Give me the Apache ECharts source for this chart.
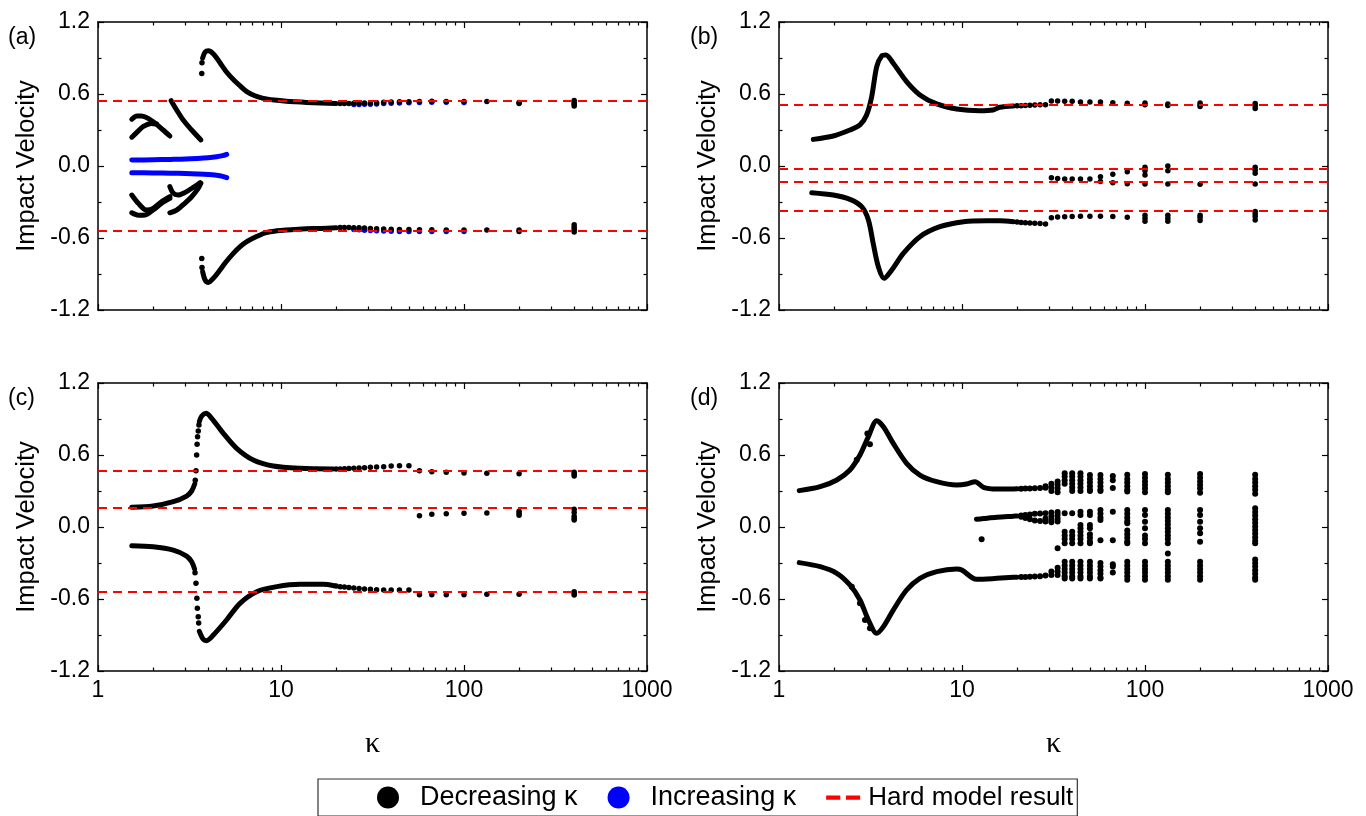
<!DOCTYPE html>
<html><head><meta charset="utf-8">
<script src="https://cdn.jsdelivr.net/npm/echarts@6/dist/echarts.min.js"></script>
<style>html,body{margin:0;padding:0;background:#fff}#c{width:1366px;height:816px}</style>
</head><body><div id="c"></div>
<script>
// ---------- tick labels ----------
const xTickValues = [1, 10, 100, 1000];
const xTickLabels = ['1', '10', '100', '1000'];
const yTickValues = [-1.2, -0.6, 0, 0.6, 1.2];
const yTickLabels = ['-1.2', '-0.6', '0.0', '0.6', '1.2'];
const minorTickK = [2,3,4,5,6,7,8,9,20,30,40,50,60,70,80,90,200,300,400,500,600,700,800,900];
const panelLabels = ['(a)', '(b)', '(c)', '(d)'];

// ---------- panel (a) ----------
const aHard = [0.54, -0.54];
const aBlueUpper = [[1.53,0.05],[2.0,0.052],[2.5,0.055],[3.0,0.058],[3.5,0.063],[4.0,0.069],[4.45,0.077],[4.8,0.086],[5.05,0.097]];
const aBlueLower = [[1.53,-0.056],[2.0,-0.058],[2.5,-0.06],[3.0,-0.063],[3.5,-0.066],[4.0,-0.07],[4.45,-0.077],[4.8,-0.086],[5.05,-0.097]];
const aBlueDots = [[25,0.512],[26.7,0.513],[28.6,0.514],[30.8,0.515],[33.3,0.517],[36.4,0.52],[40,0.522],[44.4,0.525],[50,0.527],[57.1,0.53],[66.7,0.532],[80,0.532],[100,0.53],
  [25,-0.53],[26.7,-0.532],[28.6,-0.535],[30.8,-0.537],[33.3,-0.54],[36.4,-0.542],[40,-0.543],[44.4,-0.545],[50,-0.545],[57.1,-0.545],[66.7,-0.545],[80,-0.545],[100,-0.545]];
const aUpperCurve = [[3.73,0.90],[3.85,0.95],[4.01,0.96],[4.3,0.93],[4.64,0.86],[5.0,0.79],[5.49,0.72],[6.0,0.665],[6.5,0.62],[7.2,0.585],[8.0,0.564],[9.2,0.55],[10.7,0.54],[12.0,0.535],[13.8,0.53],[16.5,0.524],[20,0.52]];
const aLowerCurve = [[3.73,-0.88],[3.85,-0.95],[4.01,-0.97],[4.3,-0.93],[4.64,-0.867],[5.0,-0.80],[5.49,-0.728],[6.0,-0.67],[6.5,-0.63],[7.3,-0.59],[8.3,-0.555],[9.5,-0.54],[10.7,-0.533],[13.0,-0.525],[16.5,-0.52],[20,-0.515]];
const aArcUpper = [[1.53,0.39],[1.63,0.417],[1.73,0.417],[1.88,0.397],[2.09,0.347],[2.27,0.30],[2.47,0.25]];
const aArcBranch = [[1.53,0.24],[1.63,0.28],[1.77,0.33],[1.96,0.355],[2.09,0.35]];
const aDiagonal = [[2.51,0.544],[2.69,0.467],[2.92,0.383],[3.25,0.30],[3.65,0.217]];
const aLowLeft1 = [[1.53,-0.242],[1.66,-0.311],[1.84,-0.367],[2.0,-0.353],[2.23,-0.297],[2.47,-0.256]];
const aLowLeft2 = [[1.53,-0.39],[1.66,-0.41],[1.81,-0.408],[2.0,-0.367],[2.23,-0.31],[2.47,-0.27]];
const aHook = [[2.47,-0.172],[2.58,-0.228],[2.74,-0.242],[2.98,-0.222],[3.32,-0.178],[3.61,-0.139]];
const aRise = [[2.47,-0.39],[2.69,-0.367],[2.98,-0.311],[3.25,-0.256],[3.53,-0.186],[3.65,-0.144]];
const aDots = [[3.69,0.77],[3.70,0.86],[3.69,-0.77],[3.70,-0.845],
  [21.05,0.52],[22.2,0.52],[23.5,0.52],[25,0.522],[26.7,0.522],[28.6,0.524],[30.8,0.525],[33.3,0.527],[36.4,0.532],[40,0.533],[44.4,0.535],[50,0.536],[57.1,0.537],[66.7,0.539],[80,0.537],[100,0.537],[133.3,0.537],[200,0.53],[200,0.52],[400,0.545],[400,0.53],[400,0.515],[400,0.50],
  [21.05,-0.512],[22.2,-0.512],[23.5,-0.513],[25,-0.514],[26.7,-0.515],[28.6,-0.517],[30.8,-0.52],[33.3,-0.522],[36.4,-0.525],[40,-0.527],[44.4,-0.53],[50,-0.53],[57.1,-0.532],[66.7,-0.532],[80,-0.533],[100,-0.533],[133.3,-0.533],[200,-0.533],[200,-0.545],[400,-0.49],[400,-0.51],[400,-0.53],[400,-0.55]];

// ---------- panel (b) ----------
const bHard = [0.51, -0.02, -0.13, -0.37];
const bUpperCurve = [[1.54,0.222],[1.98,0.25],[2.44,0.30],[2.77,0.342],[3.01,0.425],[3.21,0.578],[3.42,0.828],[3.64,0.917],[3.84,0.925],[4.21,0.856],[4.98,0.703],[5.89,0.592],[7.27,0.517],[9.35,0.475],[12.5,0.461],[14.8,0.467],[16.1,0.489],[19.1,0.50]];
const bLowerCurve = [[1.51,-0.222],[1.98,-0.242],[2.44,-0.278],[2.83,-0.339],[3.08,-0.45],[3.27,-0.644],[3.49,-0.839],[3.75,-0.936],[4.13,-0.867],[4.78,-0.728],[5.89,-0.589],[7.57,-0.506],[10.2,-0.464],[13.6,-0.456],[16.1,-0.456],[19.1,-0.464]];
const bDots = [[20,0.502],[21.05,0.503],[22.2,0.505],[23.5,0.507],[25,0.508],[26.7,0.51],[28.6,0.511],[30.8,0.542],[33.3,0.542],[36.4,0.54],[40,0.54],[44.4,0.533],[50,0.533],[57.1,0.533],[66.7,0.528],[80,0.522],[100,0.524],[100,0.51],[133.3,0.517],[133.3,0.505],[200,0.525],[200,0.51],[200,0.495],[400,0.52],[400,0.50],[400,0.48],
  [30.8,-0.097],[33.3,-0.105],[36.4,-0.108],[40,-0.108],[44.4,-0.108],[50,-0.108],[57.1,-0.09],[57.1,-0.13],[66.7,-0.069],[66.7,-0.139],[80,-0.047],[80,-0.147],[100,-0.011],[100,-0.04],[100,-0.075],[100,-0.15],[133.3,0.0],[133.3,-0.04],[133.3,-0.15],[200,-0.153],[400,-0.01],[400,-0.035],[400,-0.06],[400,-0.15],
  [20,-0.466],[21.05,-0.47],[22.2,-0.472],[23.5,-0.475],[25,-0.478],[26.7,-0.48],[28.6,-0.483],[30.8,-0.431],[33.3,-0.425],[36.4,-0.422],[40,-0.42],[44.4,-0.418],[50,-0.418],[57.1,-0.418],[66.7,-0.42],[80,-0.428],[100,-0.41],[100,-0.435],[100,-0.46],[133.3,-0.41],[133.3,-0.435],[133.3,-0.46],[200,-0.41],[200,-0.43],[200,-0.455],[400,-0.38],[400,-0.40],[400,-0.42],[400,-0.45]];

// ---------- panel (c) ----------
const cHard = [0.47, 0.16, -0.54];
const cUpperCurve1 = [[1.53,0.164],[2.0,0.175],[2.58,0.211],[3.05,0.258],[3.25,0.30],[3.38,0.36]];
const cUpperCurve2 = [[3.58,0.88],[3.69,0.925],[3.89,0.947],[4.18,0.906],[4.84,0.781],[5.72,0.656],[7.06,0.558],[9.06,0.508],[12.7,0.489],[19.3,0.483]];
const cLowerCurve1 = [[1.53,-0.156],[2.0,-0.164],[2.58,-0.192],[3.05,-0.242],[3.25,-0.29],[3.37,-0.35]];
const cLowerCurve2 = [[3.58,-0.87],[3.76,-0.936],[3.92,-0.947],[4.27,-0.9],[5.04,-0.775],[5.97,-0.636],[7.37,-0.539],[9.49,-0.497],[12.7,-0.478],[17.0,-0.478],[19.5,-0.49]];
const cDots = [[3.40,0.39],[3.43,0.469],[3.46,0.6],[3.48,0.689],[3.50,0.753],[3.53,0.8],[3.56,0.85],
  [3.39,-0.381],[3.43,-0.469],[3.47,-0.594],[3.49,-0.678],[3.53,-0.747],[3.55,-0.80],
  [20,0.483],[21.05,0.484],[22.2,0.485],[23.5,0.487],[25,0.489],[26.7,0.492],[28.6,0.494],[30.8,0.497],[33.3,0.50],[36.4,0.503],[40,0.508],[44.4,0.511],[50,0.511],[57.1,0.469],[66.7,0.461],[80,0.456],[100,0.45],[133.3,0.447],[200,0.444],[400,0.456],[400,0.44],[400,0.425],
  [57.1,0.094],[66.7,0.106],[80,0.111],[100,0.114],[133.3,0.117],[200,0.131],[200,0.115],[200,0.097],[400,0.147],[400,0.12],[400,0.09],[400,0.07],[400,0.058],
  [20,-0.492],[21.05,-0.497],[22.2,-0.50],[23.5,-0.505],[25,-0.508],[26.7,-0.512],[28.6,-0.516],[30.8,-0.519],[33.3,-0.522],[36.4,-0.525],[40,-0.525],[44.4,-0.525],[50,-0.525],[57.1,-0.564],[66.7,-0.564],[80,-0.564],[100,-0.564],[133.3,-0.561],[200,-0.561],[400,-0.54],[400,-0.555],[400,-0.567]];

// ---------- panel (d) ----------
const dUpperCurve = [[1.29,0.303],[1.68,0.336],[2.07,0.392],[2.44,0.475],[2.77,0.6],[3.08,0.753],[3.42,0.886],[3.72,0.836],[4.21,0.697],[4.98,0.531],[5.89,0.433],[7.27,0.378],[9.35,0.35],[10.6,0.358],[11.8,0.378],[13.1,0.331],[15.5,0.317],[19.1,0.317],[20,0.318]];
const dLowerCurve = [[1.29,-0.297],[1.68,-0.331],[2.07,-0.386],[2.44,-0.483],[2.77,-0.608],[3.08,-0.775],[3.42,-0.886],[3.72,-0.83],[4.21,-0.692],[4.98,-0.525],[5.89,-0.428],[7.27,-0.372],[9.35,-0.35],[9.97,-0.358],[12.0,-0.436],[15.5,-0.428],[19.1,-0.419],[20,-0.418]];
const dMidCurve = [[12.0,0.064],[13.1,0.07],[15.5,0.081],[19.1,0.09],[20,0.092]];
const dUpperDots = [[2.66,0.56],[3.14,0.69],[3.04,0.78],[2.5,-0.497],[2.77,-0.636],[2.95,-0.775],[3.14,-0.844],
  [21.05,0.318],[22.2,0.32],[23.5,0.32],[25,0.322],[26.7,0.325],[28.6,0.328],[28.6,0.34],[30.8,0.30],[30.8,0.33],[30.8,0.36],[33.3,0.29],[33.3,0.32],[33.3,0.35],[33.3,0.38],
  [36.4,0.447],[36.4,0.42],[36.4,0.39],[36.4,0.36],
  [40,0.447],[40,0.42],[40,0.39],[40,0.36],[40,0.33],[40,0.30],
  [44.4,0.447],[44.4,0.42],[44.4,0.39],[44.4,0.36],[44.4,0.33],[44.4,0.30],
  [50,0.433],[50,0.40],[50,0.37],[50,0.34],[50,0.31],[50,0.30],
  [57.1,0.433],[57.1,0.40],[57.1,0.37],[57.1,0.34],[57.1,0.31],[57.1,0.30],
  [66.7,0.425],[66.7,0.39],[66.7,0.325],
  [80,0.435],[80,0.40],[80,0.37],[80,0.34],[80,0.31],[80,0.295],
  [100,0.442],[100,0.41],[100,0.38],[100,0.35],[100,0.32],[100,0.289],
  [133.3,0.435],[133.3,0.40],[133.3,0.37],[133.3,0.34],[133.3,0.31],[133.3,0.29],
  [200,0.442],[200,0.41],[200,0.38],[200,0.35],[200,0.32],[200,0.285],
  [400,0.435],[400,0.40],[400,0.37],[400,0.34],[400,0.31],[400,0.278]];
const dMidDots = [[12.8,-0.103],[33.3,-0.178],
  [21.05,0.095],[21.05,0.085],[22.2,0.10],[22.2,0.075],[23.5,0.105],[23.5,0.065],[25,0.11],[25,0.055],[26.7,0.112],[26.7,0.05],[28.6,0.115],[28.6,0.07],[28.6,0.045],
  [30.8,0.12],[30.8,0.09],[30.8,0.06],[30.8,0.04],[33.3,0.125],[33.3,0.10],[33.3,0.07],[33.3,0.045],
  [36.4,0.114],[36.4,-0.04],[36.4,-0.07],[36.4,-0.10],[36.4,-0.135],
  [40,0.114],[40,-0.04],[40,-0.07],[40,-0.10],[40,-0.135],
  [44.4,0.128],[44.4,0.10],[44.4,0.017],[44.4,-0.011],[44.4,-0.04],[44.4,-0.07],[44.4,-0.10],[44.4,-0.135],
  [50,0.128],[50,0.10],[50,0.017],[50,-0.011],[50,-0.06],[50,-0.09],[50,-0.12],[50,-0.135],
  [57.1,0.142],[57.1,0.11],[57.1,0.08],[57.1,0.058],[57.1,-0.11],
  [66.7,0.128],[66.7,-0.11],
  [80,0.142],[80,0.11],[80,0.08],[80,0.05],[80,0.031],[80,-0.03],[80,-0.06],[80,-0.09],[80,-0.12],[80,-0.136],
  [100,0.142],[100,0.10],[100,0.044],[100,-0.011],[100,-0.07],[100,-0.10],[100,-0.136],
  [133.3,0.142],[133.3,0.11],[133.3,0.08],[133.3,0.05],[133.3,0.02],[133.3,-0.01],[133.3,-0.04],[133.3,-0.07],[133.3,-0.10],[133.3,-0.136],[133.3,-0.22],
  [200,0.142],[200,0.10],[200,0.044],[200,-0.011],[200,-0.053],[200,-0.122],
  [400,0.156],[400,0.125],[400,0.095],[400,0.065],[400,0.035],[400,0.005],[400,-0.025],[400,-0.055],[400,-0.085],[400,-0.115],[400,-0.136]];
const dLowerDots = [[21.05,-0.417],[22.2,-0.416],[23.5,-0.415],[25,-0.413],[26.7,-0.41],[28.6,-0.405],[30.8,-0.40],[30.8,-0.37],[33.3,-0.40],[33.3,-0.37],[33.3,-0.34],
  [36.4,-0.29],[36.4,-0.32],[36.4,-0.35],[36.4,-0.38],[36.4,-0.41],[36.4,-0.43],
  [40,-0.29],[40,-0.32],[40,-0.35],[40,-0.38],[40,-0.41],[40,-0.43],
  [44.4,-0.29],[44.4,-0.32],[44.4,-0.35],[44.4,-0.38],[44.4,-0.41],[44.4,-0.43],
  [50,-0.29],[50,-0.32],[50,-0.35],[50,-0.38],[50,-0.41],[50,-0.43],
  [57.1,-0.30],[57.1,-0.33],[57.1,-0.36],[57.1,-0.39],[57.1,-0.42],[57.1,-0.43],
  [66.7,-0.31],[66.7,-0.33],[66.7,-0.38],
  [80,-0.29],[80,-0.32],[80,-0.35],[80,-0.38],[80,-0.41],[80,-0.44],
  [100,-0.29],[100,-0.32],[100,-0.35],[100,-0.38],[100,-0.41],[100,-0.44],
  [133.3,-0.29],[133.3,-0.32],[133.3,-0.35],[133.3,-0.38],[133.3,-0.41],[133.3,-0.44],
  [200,-0.29],[200,-0.32],[200,-0.35],[200,-0.38],[200,-0.41],[200,-0.44],
  [400,-0.27],[400,-0.30],[400,-0.33],[400,-0.36],[400,-0.39],[400,-0.42],[400,-0.44]];

// ---------- build chart ----------
const SANS = 'Liberation Sans, Arial, sans-serif';
const SERIF = 'Liberation Serif, Times New Roman, serif';
const AX = '#000';
const BLACK = '#000000', BLUE = '#0000ff', RED = '#ff0000';
const DEC = 'Decreasing \u03ba', INC = 'Increasing \u03ba', HARD = 'Hard model result';

const rects = [
  {left: 98, top: 22, width: 549, height: 288},
  {left: 779, top: 22, width: 549, height: 288},
  {left: 98, top: 383, width: 549, height: 288},
  {left: 779, top: 383, width: 549, height: 288}
];
const labelPos = [[8, 26], [690, 26], [8, 387], [690, 387]];

const grid = [], xAxis = [], yAxis = [], series = [], title = [];
function nearestLabel(vals, labels, v) {
  let bi = 0;
  vals.forEach((t, i) => { if (Math.abs(Math.log(t) - Math.log(v)) < Math.abs(Math.log(vals[bi]) - Math.log(v))) bi = i; });
  return labels[bi];
}
function nearestLin(vals, labels, v) {
  let bi = 0;
  vals.forEach((t, i) => { if (Math.abs(t - v) < Math.abs(vals[bi] - v)) bi = i; });
  return labels[bi];
}

rects.forEach((r, p) => {
  grid.push(Object.assign({containLabel: false}, r));
  const showX = p >= 2;
  const baseLog = {
    type: 'log', logBase: 10, gridIndex: p, min: 1, max: 1000,
    axisLine: {show: true, onZero: false, lineStyle: {color: AX, width: 1.5}},
    axisTick: {show: true, inside: true, length: 6, lineStyle: {color: AX, width: 1.2}},
    splitLine: {show: false}, minorTick: {show: false}
  };
  xAxis.push(Object.assign({}, baseLog, {
    position: 'bottom',
    axisLabel: {show: showX, margin: 8, fontSize: 23, color: '#000', fontFamily: SANS,
      formatter: v => nearestLabel(xTickValues, xTickLabels, v)},
    name: showX ? '\u03ba' : '', nameLocation: 'middle', nameGap: 58,
    nameTextStyle: {fontFamily: SERIF, fontSize: 30, color: '#000'}
  }));
  xAxis.push(Object.assign({}, baseLog, {position: 'top', axisLabel: {show: false}}));
  const baseY = {
    type: 'value', gridIndex: p, min: -1.2, max: 1.2, interval: 0.6,
    axisLine: {show: true, onZero: false, lineStyle: {color: AX, width: 1.5}},
    axisTick: {show: true, inside: true, length: 6, lineStyle: {color: AX, width: 1.2}},
    minorTick: {show: true, splitNumber: 2, length: 3.5, lineStyle: {color: AX, width: 1.2}},
    splitLine: {show: false}
  };
  yAxis.push(Object.assign({}, baseY, {
    position: 'left',
    axisLabel: {show: true, margin: 8, fontSize: 23, color: '#000', fontFamily: SANS,
      formatter: v => nearestLin(yTickValues, yTickLabels, v)},
    name: 'Impact Velocity', nameLocation: 'middle', nameGap: 58,
    nameTextStyle: {fontFamily: SANS, fontSize: 25.5, color: '#000'}
  }));
  yAxis.push(Object.assign({}, baseY, {position: 'right', axisLabel: {show: false}}));
  title.push({text: panelLabels[p], left: labelPos[p][0], top: labelPos[p][1], padding: 0,
    textStyle: {fontFamily: SANS, fontSize: 23, fontWeight: 'normal', color: '#000'}});
});
// helper grids for the logarithmic minor ticks
rects.forEach((r, p) => {
  const gi = 4 + p;
  grid.push(Object.assign({containLabel: false}, r));
  const helper = {
    type: 'value', gridIndex: gi, min: 0, max: 3,
    axisLine: {show: false, onZero: false}, axisLabel: {show: false}, splitLine: {show: false},
    axisTick: {show: true, inside: true, length: 3.5, lineStyle: {color: AX, width: 1.2},
      customValues: minorTickK.map(k => Math.log10(k))}
  };
  xAxis.push(Object.assign({}, helper, {position: 'bottom'}));
  xAxis.push(Object.assign({}, helper, {position: 'top'}));
  yAxis.push({type: 'value', gridIndex: gi, min: 0, max: 1, show: false});
});

function addLine(p, name, data, color) {
  series.push({type: 'line', name, xAxisIndex: 2 * p, yAxisIndex: 2 * p, data,
    showSymbol: false, symbol: 'none', smooth: 0.3, silent: true, animation: false,
    color, itemStyle: {color}, lineStyle: {color, width: 5, cap: 'round', join: 'round'}, z: 3});
}
function addDots(p, name, data, color, size) {
  series.push({type: 'scatter', name, xAxisIndex: 2 * p, yAxisIndex: 2 * p, data,
    symbol: 'circle', symbolSize: size || 5.5, silent: true, animation: false,
    color, itemStyle: {color, opacity: 1}, z: 3});
}
function addHard(p, values) {
  series.push({type: 'line', name: HARD, xAxisIndex: 2 * p, yAxisIndex: 2 * p, data: [],
    color: RED, itemStyle: {color: RED}, lineStyle: {color: RED, width: 2}, animation: false, z: 5,
    markLine: {silent: true, symbol: 'none', animation: false, label: {show: false},
      lineStyle: {color: RED, width: 2, type: [9, 6]},
      data: values.map(v => ({yAxis: v}))}});
}

// (a)
addLine(0, INC, aBlueUpper, BLUE);
addLine(0, INC, aBlueLower, BLUE);
addDots(0, INC, aBlueDots, BLUE);
[aUpperCurve, aLowerCurve, aArcUpper, aArcBranch, aDiagonal, aLowLeft1, aLowLeft2, aHook, aRise].forEach(d => addLine(0, DEC, d, BLACK));
addDots(0, DEC, aDots, BLACK);
addHard(0, aHard);
// (b)
addLine(1, DEC, bUpperCurve, BLACK);
addLine(1, DEC, bLowerCurve, BLACK);
addDots(1, DEC, bDots, BLACK);
addHard(1, bHard);
// (c)
[cUpperCurve1, cUpperCurve2, cLowerCurve1, cLowerCurve2].forEach(d => addLine(2, DEC, d, BLACK));
addDots(2, DEC, cDots, BLACK);
addHard(2, cHard);
// (d)
[dUpperCurve, dLowerCurve, dMidCurve].forEach(d => addLine(3, DEC, d, BLACK));
addDots(3, DEC, dUpperDots, BLACK, 6);
addDots(3, DEC, dMidDots, BLACK, 6);
addDots(3, DEC, dLowerDots, BLACK, 6);

const option = {
  backgroundColor: '#ffffff',
  animation: false,
  title,
  grid, xAxis, yAxis, series,
  legend: {
    left: 318, top: 779, orient: 'horizontal', selectedMode: false,
    padding: [5, 4, 5, 59], itemGap: 30, itemWidth: 34, itemHeight: 22,
    borderColor: '#333', borderWidth: 1.2, backgroundColor: '#fff',
    formatter: name => (name === INC ? '{p|' + name + '}' : name),
    textStyle: {fontSize: 27, color: '#000', fontFamily: SANS, padding: [0, 0, 0, 10],
      rich: {p: {fontSize: 27, color: '#000', fontFamily: SANS, padding: [0, 8, 0, 0]}}},
    data: [
      {name: DEC, icon: 'circle', itemStyle: {color: BLACK}},
      {name: INC, icon: 'circle', itemStyle: {color: BLUE}},
      {name: HARD, icon: 'path://M0,0h10v3h-10zM14,0h10v3h-10z', itemStyle: {color: RED},
        textStyle: {fontSize: 26, padding: [0, 0, 0, 3]}}
    ]
  }
};
const chart = echarts.init(document.getElementById('c'), null, {renderer: 'canvas'});
chart.setOption(option);
</script>
</body></html>
